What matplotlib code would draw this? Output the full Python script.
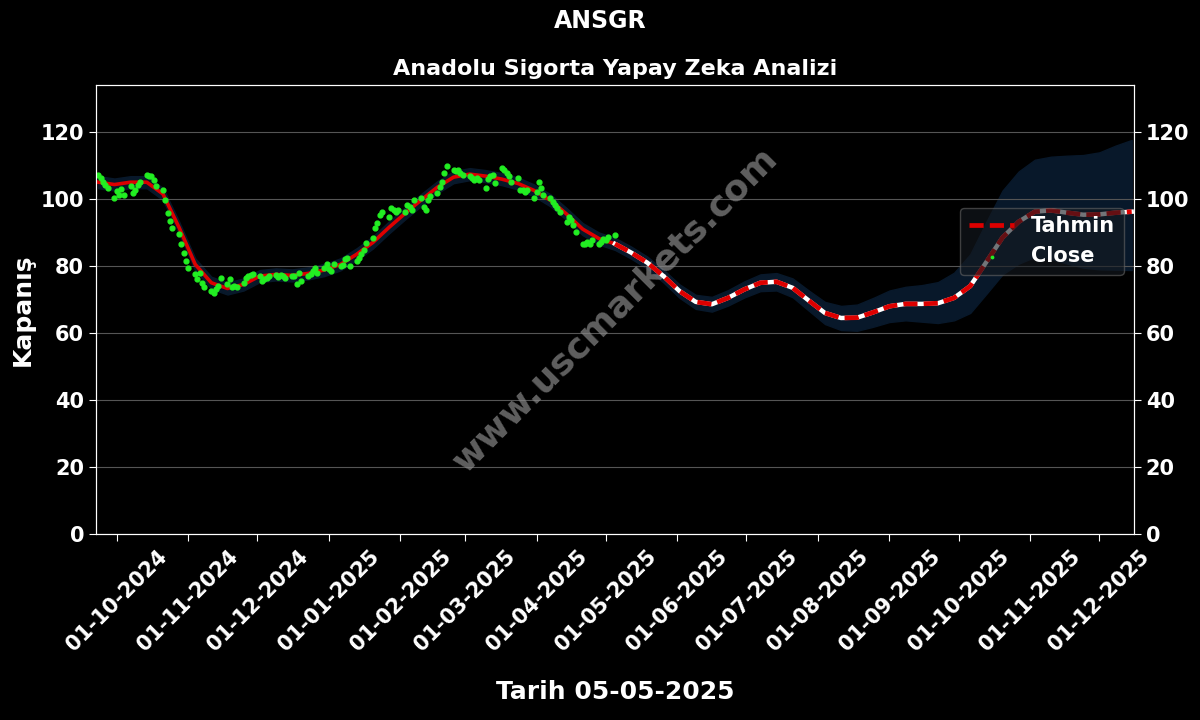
import matplotlib
matplotlib.use('Agg')
from matplotlib import pyplot as plt
import matplotlib.dates as mdates
import pandas as pd

TITLE = "ANSGR"
SUBTITLE = "Anadolu Sigorta Yapay Zeka Analizi"
XLABEL = "Tarih 05-05-2025"
YLABEL = "Kapanış"
WATERMARK = "www.uscmarkets.com"

# closing prices, business days from 23-09-2024
close_start = "2024-09-23"
close_values = [
    107.2, 106.2, 105.0, 104.3, 103.3, 100.3, 102.3, 101.3, 103.0, 101.3,
    103.8, 101.8, 102.6, 104.3, 105.2, 107.2, 106.7, 106.7, 105.7, 103.8,
    102.8, 99.8, 95.8, 93.5, 91.4, 89.4, 86.5, 84.0, 81.5, 79.5,
    77.5, 76.0, 78.0, 75.0, 73.6, 72.6,
    72.1, 73.1, 74.0, 76.5, 74.5, 76.0, 73.6, 74.0, 73.6, 75.0,
    76.5, 77.0, 77.2, 77.5, 77.0, 75.5, 76.0, 76.5, 77.0, 77.2,
    76.8, 77.3, 76.9,
    76.5, 77.0, 77.0, 74.5, 78.0, 75.5, 77.0, 77.5, 78.5, 79.5,
    78.0, 79.5, 80.5, 79.0, 78.5, 80.5, 80.0, 80.2, 82.0, 82.5,
    80.0, 81.5, 82.5, 83.5,
    84.8, 86.8, 88.3, 91.2, 92.7, 95.2, 96.0, 94.7, 97.2, 96.7,
    96.2, 96.7, 96.2, 98.2, 97.7, 96.7, 99.7, 100.2, 97.7, 96.7,
    99.7, 100.8, 101.7, 103.7, 105.2, 107.7, 109.7, 108.7, 108.4, 108.7,
    107.7, 107.2, 106.7, 106.2, 105.7, 106.2, 105.7, 103.2, 106.0, 106.7,
    107.2, 104.7, 109.2, 108.7, 107.7, 106.7, 105.2, 106.2, 102.7, 102.7,
    102.2, 102.7, 100.2, 102.2, 105.2, 103.2, 101.2, 100.2, 99.2, 98.2,
    97.2, 96.2, 93.2, 94.7, 93.7, 92.2, 90.2, 86.7, 86.7, 87.2,
    86.7, 87.7, 86.7, 87.2, 88.2, 87.7, 88.7, 89.2,
]

# model line, weekly from 23-09-2024
pred_start = "2024-09-23"
pred_values = [
    105.0, 104.3, 105.0, 105.0, 101.5, 91.5, 80.5, 75.0, 73.3, 74.5,
    77.0, 77.5, 77.2, 77.8, 78.8, 80.5, 83.5, 87.0, 91.5, 95.7,
    99.7, 103.5, 106.5, 107.4, 106.8, 105.9, 104.6, 102.5, 99.6, 95.5,
    91.0, 88.2, 86.6, 84.0, 81.0, 77.0, 72.5, 69.3, 68.6, 70.5,
    73.0, 75.0, 75.3, 73.5, 69.7, 66.0, 64.5, 64.6, 66.2, 68.0,
    68.7, 68.7, 68.9, 70.5, 74.0, 81.2, 88.5, 93.2, 96.2, 96.6,
    95.9, 95.3, 95.4, 95.9, 96.2,
]
band_upper = [
    1.8, 1.8, 1.8, 1.8, 1.8, 1.8, 1.8, 1.8, 1.8, 1.8,
    1.8, 1.8, 1.8, 1.8, 1.8, 1.8, 1.8, 1.8, 1.8, 1.8,
    1.8, 1.8, 1.8, 1.8, 1.8, 1.8, 1.8, 1.8, 1.8, 1.8,
    1.8, 1.8, 1.8, 1.8, 1.8, 1.9, 2.0, 2.1, 2.2, 2.3,
    2.4, 2.5, 2.6, 2.8, 3.0, 3.3, 3.6, 3.9, 4.3, 4.7,
    5.1, 5.6, 6.3, 7.5, 9.5, 12.0, 14.0, 15.0, 15.5, 16.0,
    17.0, 17.8, 18.5, 20.0, 21.4,
]
band_lower = [
    1.8, 1.8, 1.8, 1.8, 1.8, 1.8, 1.8, 1.8, 1.8, 1.8,
    1.8, 1.8, 1.8, 1.8, 1.8, 1.8, 1.8, 1.8, 1.8, 1.8,
    1.8, 1.8, 1.8, 1.8, 1.8, 1.8, 1.8, 1.8, 1.8, 1.8,
    1.8, 1.8, 1.8, 1.8, 1.8, 1.9, 2.0, 2.1, 2.2, 2.3,
    2.4, 2.5, 2.6, 2.8, 3.0, 3.3, 3.6, 3.9, 4.3, 4.7,
    4.9, 5.3, 5.9, 6.7, 8.0, 9.5, 11.0, 12.5, 13.5, 14.5,
    15.2, 15.8, 16.4, 17.0, 17.4,
]

yticks = [0, 20, 40, 60, 80, 100, 120]

close_dates = pd.bdate_range(close_start, periods=len(close_values))
pred_dates = pd.date_range(pred_start, periods=len(pred_values), freq='7D')
pred = pd.Series(pred_values, index=pred_dates)
upper = pred + pd.Series(band_upper, index=pred_dates)
lower = pred - pd.Series(band_lower, index=pred_dates)
split = close_dates[-1]
hist = pred[pred.index <= split + pd.Timedelta(days=7)]
fut = pred[pred.index >= split - pd.Timedelta(days=1)]

fig = plt.figure(figsize=(12, 7.2), dpi=100, facecolor='black')
ax = fig.add_axes([0.08, 0.258, 0.865, 0.624])
ax.set_facecolor('black')

ax.fill_between(pred.index, lower, upper, color='#08182a', zorder=1)
ax.grid(axis='y', color='#555555', linewidth=0.8, zorder=0)

ax.plot(hist.index, hist.values, color='#dd0000', linewidth=2.6, zorder=3)
ax.plot(fut.index, fut.values, color='white', linewidth=3.2, zorder=3)
tahmin, = ax.plot(fut.index, fut.values, color='#dd0000', linewidth=3.4,
                  linestyle='--', dashes=(3, 1.3), zorder=4, label='Tahmin')
close = ax.scatter(close_dates, close_values, color='#22ee22', s=12,
                   zorder=5, label='Close')

ax.set_ylim(0, 134)
ax.set_xlim(pd.Timestamp('2024-09-22'), pd.Timestamp('2025-12-16'))
ax.set_yticks(yticks)
ax.xaxis.set_major_locator(mdates.MonthLocator())
ax.xaxis.set_major_formatter(mdates.DateFormatter('%d-%m-%Y'))

for s in ax.spines.values():
    s.set_color('white')
ax.tick_params(colors='white', labelsize=15, length=5)
for lab in ax.get_xticklabels():
    lab.set_rotation(45)
    lab.set_fontweight('bold')
for lab in ax.get_yticklabels():
    lab.set_fontweight('bold')

ax2 = ax.twinx()
ax2.set_ylim(ax.get_ylim())
ax2.set_yticks(yticks)
ax2.tick_params(colors='white', labelsize=15, length=5)
for lab in ax2.get_yticklabels():
    lab.set_fontweight('bold')
for s in ax2.spines.values():
    s.set_color('white')

ax.set_xlabel(XLABEL, color='white', fontsize=18, fontweight='bold', labelpad=18)
ax.set_ylabel(YLABEL, color='white', fontsize=18, fontweight='bold')
ax.set_title(SUBTITLE, color='white', fontsize=16, fontweight='bold', pad=7)
fig.suptitle(TITLE, color='white', fontsize=17, fontweight='bold', y=0.988)

ax.text(0.5, 0.5, WATERMARK, transform=ax.transAxes, rotation=45,
        fontsize=26, fontweight='bold', color='#888888', alpha=0.7,
        ha='center', va='center', zorder=2)

leg = ax2.legend(handles=[tahmin, close], loc='upper right',
                 bbox_to_anchor=(1.0, 0.75), fontsize=15,
                 facecolor='#151a20', edgecolor='#666666', framealpha=0.6,
                 handlelength=2.2, markerscale=0.5)
for t in leg.get_texts():
    t.set_color('white')
    t.set_fontweight('bold')

fig.savefig('out.png', facecolor='black')
